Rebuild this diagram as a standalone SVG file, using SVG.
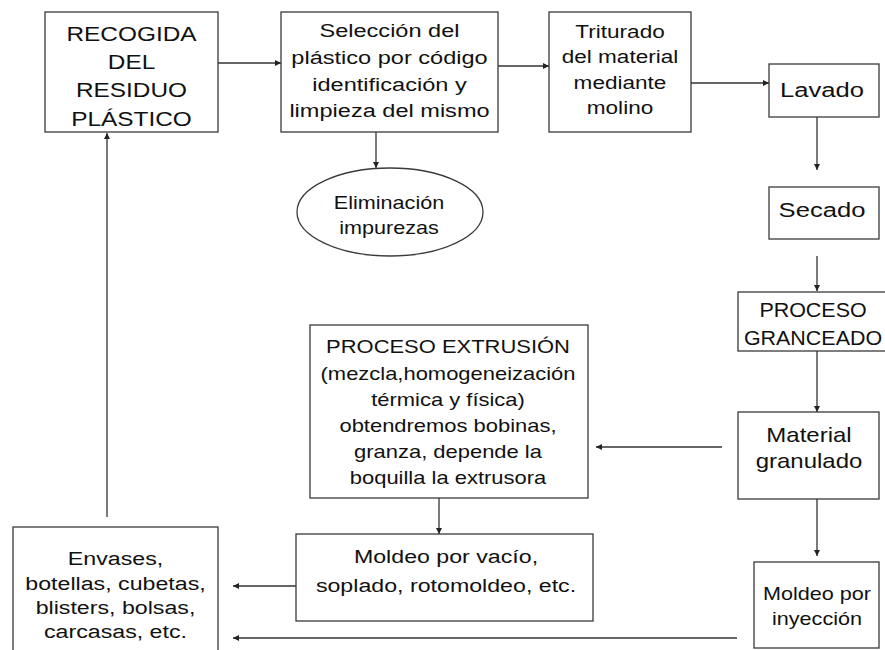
<svg xmlns="http://www.w3.org/2000/svg" width="885" height="650" viewBox="0 0 885 650">
<style>
.box{fill:#fff;stroke:#3a3a3a;stroke-width:1.3}
.t{font-family:"Liberation Sans",Arial,sans-serif;fill:#111;text-anchor:middle}
.c{fill:none;stroke:#333;stroke-width:1.3;marker-end:url(#ah)}
</style>
<defs>
<marker id="ah" viewBox="0 0 10 10" refX="10" refY="5" markerWidth="7" markerHeight="6" markerUnits="userSpaceOnUse" orient="auto">
<path d="M0,0 L10,5 L0,10 z" fill="#222"/>
</marker>
</defs>
<rect width="885" height="650" fill="#fff"/>
<g id="connectors">
<line class="c" x1="218" y1="63" x2="281" y2="63"/>
<line class="c" x1="498" y1="66" x2="549" y2="66"/>
<line class="c" x1="691" y1="83" x2="769" y2="83"/>
<line class="c" x1="376" y1="132" x2="376" y2="168"/>
<line class="c" x1="817" y1="117" x2="817" y2="170"/>
<line class="c" x1="817" y1="256" x2="817" y2="291"/>
<line class="c" x1="817" y1="351" x2="817" y2="412"/>
<line class="c" x1="817" y1="499" x2="817" y2="556"/>
<line class="c" x1="722" y1="447" x2="596" y2="447"/>
<line class="c" x1="439" y1="498" x2="439" y2="534"/>
<line class="c" x1="296" y1="586" x2="233" y2="586"/>
<line class="c" x1="737" y1="638" x2="233" y2="638"/>
<line class="c" x1="107" y1="517" x2="107" y2="133"/>
</g>
<g id="recogida">
<rect class="box" x="45" y="12" width="173" height="120"/>
<text class="t" font-size="20" transform="translate(131.5,0) scale(1.22,1)"><tspan x="0" y="41">RECOGIDA</tspan><tspan x="0" y="69">DEL</tspan><tspan x="0" y="97">RESIDUO</tspan><tspan x="0" y="126">PLÁSTICO</tspan></text>
</g>
<g id="seleccion">
<rect class="box" x="281" y="12" width="217" height="120"/>
<text class="t" font-size="19" transform="translate(389.5,0) scale(1.24,1)"><tspan x="0" y="37">Selección del</tspan><tspan x="0" y="64">plástico por código</tspan><tspan x="0" y="91">identificación y</tspan><tspan x="0" y="117">limpieza del mismo</tspan></text>
</g>
<g id="triturado">
<rect class="box" x="549" y="12" width="142" height="120"/>
<text class="t" font-size="18.5" transform="translate(620,0) scale(1.22,1)"><tspan x="0" y="38">Triturado</tspan><tspan x="0" y="63">del material</tspan><tspan x="0" y="89">mediante</tspan><tspan x="0" y="114">molino</tspan></text>
</g>
<g id="lavado">
<rect class="box" x="769" y="64" width="110" height="53"/>
<text class="t" font-size="21" transform="translate(822,0) scale(1.22,1)"><tspan x="0" y="97">Lavado</tspan></text>
</g>
<g id="eliminacion">
<ellipse class="box" cx="390" cy="212" rx="93" ry="44"/>
<text class="t" font-size="18" transform="translate(389,0) scale(1.2,1)"><tspan x="0" y="209">Eliminación</tspan><tspan x="0" y="234">impurezas</tspan></text>
</g>
<g id="secado">
<rect class="box" x="769" y="187" width="110" height="52"/>
<text class="t" font-size="21" transform="translate(822,0) scale(1.22,1)"><tspan x="0" y="217">Secado</tspan></text>
</g>
<g id="granceado">
<rect class="box" x="738" y="292" width="160" height="59"/>
<text class="t" font-size="19.5" transform="translate(813,0) scale(1.1,1)"><tspan x="0" y="317">PROCESO</tspan><tspan x="0" y="345">GRANCEADO</tspan></text>
</g>
<g id="material">
<rect class="box" x="738" y="412" width="141" height="87"/>
<text class="t" font-size="20" transform="translate(809,0) scale(1.2,1)"><tspan x="0" y="442">Material</tspan><tspan x="0" y="468">granulado</tspan></text>
</g>
<g id="inyeccion">
<rect class="box" x="754" y="562" width="125" height="86"/>
<text class="t" font-size="18" transform="translate(817,0) scale(1.2,1)"><tspan x="0" y="600">Moldeo por</tspan><tspan x="0" y="625">inyección</tspan></text>
</g>
<g id="extrusion">
<rect class="box" x="310" y="325" width="278" height="173"/>
<text class="t" font-size="18" transform="translate(448,0) scale(1.22,1)"><tspan x="0" y="353">PROCESO EXTRUSIÓN</tspan><tspan x="0" y="380">(mezcla,homogeneización</tspan><tspan x="0" y="406">térmica y física)</tspan><tspan x="0" y="432">obtendremos bobinas,</tspan><tspan x="0" y="458">granza, depende la</tspan><tspan x="0" y="484">boquilla la extrusora</tspan></text>
</g>
<g id="vacio">
<rect class="box" x="296" y="534" width="297" height="87"/>
<text class="t" font-size="19" transform="translate(446,0) scale(1.22,1)"><tspan x="0" y="563">Moldeo por vacío,</tspan><tspan x="0" y="592">soplado, rotomoldeo, etc.</tspan></text>
</g>
<g id="envases">
<rect class="box" x="13" y="527" width="205" height="140"/>
<text class="t" font-size="19" transform="translate(115.5,0) scale(1.22,1)"><tspan x="0" y="565">Envases,</tspan><tspan x="0" y="590">botellas, cubetas,</tspan><tspan x="0" y="614">blisters, bolsas,</tspan><tspan x="0" y="638">carcasas, etc.</tspan></text>
</g>
</svg>
